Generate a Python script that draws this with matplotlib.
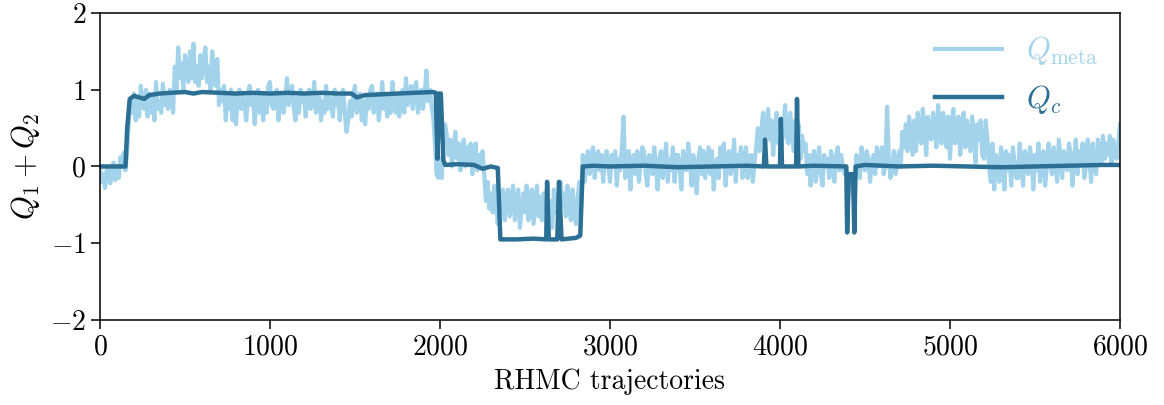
import numpy as np
import matplotlib
matplotlib.use("Agg")
import matplotlib.pyplot as plt

plt.rcParams["font.family"] = "serif"
plt.rcParams["font.serif"] = ["cmr10", "DejaVu Serif"]
plt.rcParams["mathtext.fontset"] = "cm"
plt.rcParams["axes.formatter.use_mathtext"] = True
plt.rcParams["font.size"] = 20

# Q_meta, one value every 10 trajectories, 200 per row
meta_step = 10
q_meta = [
    -0.05, -0.2, -0.1, -0.28, -0.05, 0.0, -0.22, -0.1, 0.05, -0.18, 0.0, -0.15, 0.12, 0.05, 0.18, -0.05, 0.2, 0.6, 0.85, 0.7,
    0.95, 0.6, 0.9, 0.65, 1.05, 0.8, 0.75, 1.0, 0.65, 0.95, 0.7, 0.9, 0.6, 1.1, 0.75, 0.85, 0.7, 1.08, 0.8, 0.95,
    0.75, 1.0, 0.85, 0.7, 1.3, 1.0, 1.55, 1.15, 1.35, 1.0, 1.45, 1.2, 1.1, 1.5, 1.15, 1.6, 1.1, 1.3, 1.05, 1.45,
    1.15, 1.4, 1.55, 1.1, 1.3, 1.0, 1.5, 1.2, 1.05, 1.4, 0.8, 1.0, 0.85, 1.05, 0.6, 0.9, 0.75, 1.0, 0.6, 0.95,
    0.55, 0.9, 1.0, 0.75, 0.95, 0.8, 0.6, 0.9, 1.05, 0.8, 0.95, 0.55, 0.85, 1.0, 0.7, 0.95, 0.6, 0.9, 0.7, 1.05,
    1.1, 0.8, 0.75, 0.95, 1.0, 0.6, 0.85, 0.95, 0.7, 0.9, 1.15, 0.8, 0.95, 1.05, 0.75, 0.6, 0.9, 0.7, 1.0, 0.85,
    0.95, 0.65, 0.9, 1.0, 0.75, 0.85, 1.1, 0.7, 0.8, 0.95, 0.6, 0.85, 0.7, 1.05, 0.75, 0.9, 0.8, 0.65, 1.0, 0.8,
    0.9, 0.6, 0.85, 1.0, 0.7, 0.45, 0.6, 0.85, 0.65, 0.95, 1.05, 0.7, 0.8, 0.95, 0.6, 0.85, 0.55, 0.9, 0.75, 1.0,
    1.05, 0.7, 0.85, 0.95, 0.6, 0.8, 1.1, 0.75, 0.9, 0.65, 0.9, 0.7, 1.1, 0.85, 0.7, 0.95, 0.65, 0.85, 1.0, 0.7,
    1.15, 0.8, 0.9, 1.05, 0.75, 1.0, 1.1, 0.7, 0.85, 1.0, 0.75, 0.95, 1.25, 0.85, 1.0, 0.8, 0.65, 0.3, -0.1, -0.15,
    0.1, -0.15, 0.3, 0.55, 0.4, 0.15, 0.35, 0.0, 0.25, 0.45, 0.1, 0.3, -0.05, 0.2, 0.35, 0.0, 0.25, 0.05, 0.3, -0.1,
    0.2, 0.3, -0.05, 0.15, 0.0, 0.2, -0.1, -0.45, -0.2, -0.55, -0.35, -0.6, -0.25, -0.45, -0.75, -0.4, -0.6, -0.3, -0.7, -0.45,
    -0.3, -0.65, -0.45, -0.25, -0.7, -0.5, -0.3, -0.8, -0.55, -0.35, -0.6, -0.25, -0.7, -0.45, -0.3, -0.75, -0.5, -0.25, -0.65, -0.4,
    -0.7, -0.35, -0.55, -0.25, -0.65, -0.45, -0.8, -0.3, -0.6, -0.4, -0.7, -0.2, -0.5, -0.35, -0.65, -0.25, -0.55, -0.7, -0.3, -0.6,
    -0.75, -0.4, -0.2, -0.5, 0.15, -0.2, 0.05, 0.2, -0.1, 0.1, 0.25, -0.15, 0.05, 0.2, -0.05, 0.15, -0.2, 0.1, 0.2, 0.0,
    -0.2, 0.15, 0.0, 0.2, -0.25, 0.1, -0.05, 0.25, 0.65, -0.15, 0.05, 0.2, -0.3, 0.1, 0.15, -0.1, 0.2, -0.2, 0.05, 0.25,
    0.2, -0.1, -0.25, 0.15, 0.05, -0.1, 0.25, 0.0, -0.3, 0.1, 0.2, -0.15, 0.05, 0.3, -0.2, 0.1, -0.05, 0.25, -0.2, 0.15,
    0.15, -0.05, -0.3, 0.2, 0.0, -0.05, 0.3, 0.1, -0.25, 0.15, 0.0, -0.35, 0.1, 0.25, -0.1, 0.2, -0.15, 0.05, 0.25, -0.1,
    0.2, -0.3, 0.0, 0.1, -0.15, 0.25, 0.05, 0.3, -0.25, 0.1, 0.2, -0.1, 0.05, 0.35, -0.2, 0.15, 0.0, 0.25, -0.15, 0.1,
    0.25, -0.15, 0.1, 0.15, -0.2, 0.05, 0.25, 0.5, 0.2, 0.45, 0.7, 0.3, 0.55, 0.75, 0.35, 0.6, 0.15, 0.5, 0.7, 0.3,
    0.6, 0.25, 0.5, 0.8, 0.4, 0.3, 0.7, 0.45, 0.2, 0.6, 0.3, 0.55, 0.1, 0.4, 0.2, 0.3, -0.1, 0.15, -0.25, 0.1,
    0.2, -0.2, 0.05, 0.25, -0.1, -0.25, 0.15, 0.0, 0.1, -0.15, 0.2, 0.05, -0.2, 0.15, 0.25, -0.05, 0.15, 0.0, -0.1, -0.05,
    -0.35, -0.15, -0.1, -0.4, -0.2, 0.15, -0.05, -0.15, 0.25, 0.0, -0.05, 0.2, 0.1, -0.2, 0.05, 0.15, -0.1, 0.25, 0.0, 0.15,
    0.25, -0.1, 0.05, 0.78, 0.1, -0.15, 0.0, 0.2, -0.1, 0.05, 0.2, 0.0, 0.45, 0.25, 0.55, 0.2, 0.65, 0.4, 0.15, 0.6,
    0.2, 0.7, 0.45, 0.3, 0.75, 0.5, 0.15, 0.65, 0.4, 0.35, 0.7, 0.55, 0.25, 0.8, 0.5, 0.3, 0.7, 0.45, 0.25, 0.65,
    0.1, 0.55, 0.75, 0.3, 0.5, 0.65, 0.15, 0.45, 0.7, 0.25, 0.6, 0.4, 0.2, 0.65, 0.45, 0.05, 0.55, 0.35, 0.6, 0.15,
    0.1, 0.6, 0.35, 0.0, -0.2, 0.3, -0.3, 0.15, 0.0, -0.2, 0.25, 0.1, -0.3, 0.2, -0.05, 0.15, -0.25, 0.25, 0.05, -0.15,
    -0.15, 0.3, 0.0, -0.25, 0.2, 0.05, -0.1, 0.25, 0.1, -0.3, 0.15, -0.05, 0.3, -0.2, 0.1, 0.2, -0.25, 0.0, 0.3, 0.05,
    -0.1, 0.25, 0.05, -0.2, 0.35, 0.1, -0.15, 0.2, 0.0, -0.05, 0.3, 0.15, -0.25, 0.1, 0.35, -0.1, 0.2, 0.05, 0.3, -0.15,
    0.0, 0.35, 0.1, -0.2, 0.3, 0.0, -0.1, 0.35, 0.15, 0.05, 0.4, 0.1, 0.3, 0.15, 0.4, 0.05, 0.35, 0.2, 0.1, 0.3,
    0.55,
]
t_meta = np.arange(len(q_meta)) * meta_step

# Q_c, trajectory / value pairs at the corners of the curve
t_c = [0, 150, 160, 175, 200, 230, 260, 290, 350, 420, 500, 550, 600, 700, 800,
       900, 1000, 1100, 1200, 1300, 1400, 1480, 1510, 1560, 1650, 1750, 1850,
       1960, 1975, 1985, 1995, 2005, 2020, 2030, 2100, 2200, 2250, 2300, 2340,
       2355, 2450, 2550, 2625, 2630, 2640, 2690, 2700, 2715, 2800, 2825, 2840,
       2900, 3000, 3200, 3400, 3600, 3800, 3905, 3912, 3920, 4000, 4005, 4012,
       4095, 4100, 4108, 4200, 4390, 4395, 4405, 4430, 4437, 4445, 4500, 4700,
       4900, 5100, 5300, 5500, 5700, 5900, 6000]
q_c = [0.0, 0.0, 0.5, 0.88, 0.92, 0.90, 0.88, 0.93, 0.95, 0.96, 0.97, 0.95, 0.97,
       0.96, 0.95, 0.96, 0.95, 0.96, 0.95, 0.96, 0.95, 0.95, 0.90, 0.93, 0.94,
       0.95, 0.96, 0.97, 0.96, 0.10, 0.95, 0.95, 0.08, 0.02, 0.03, 0.02, -0.03,
       0.00, -0.02, -0.95, -0.95, -0.94, -0.95, -0.20, -0.95, -0.95, -0.20,
       -0.95, -0.93, -0.90, 0.00, 0.01, 0.00, 0.01, -0.01, 0.00, 0.01, 0.00,
       0.35, 0.00, 0.00, 0.62, 0.00, 0.00, 0.88, 0.00, 0.01, 0.00, -0.86,
       -0.10, -0.10, -0.86, 0.00, 0.02, 0.00, 0.01, 0.00, -0.01, 0.00, 0.01,
       0.02, 0.02]

c_meta = "#a3d3eb"
c_c = "#2b6f94"

fig = plt.figure(figsize=(11.64, 4.05), dpi=100)
ax = fig.add_axes([0.0859, 0.2099, 0.8763, 0.7581])

ax.plot(t_meta, q_meta, color=c_meta, lw=3.0, label=r"$Q_{\rm meta}$")
ax.plot(t_c, q_c, color=c_c, lw=3.2, label=r"$Q_c$")

ax.set_xlim(0, 6000)
ax.set_ylim(-2, 2)
ax.set_xticks([0, 1000, 2000, 3000, 4000, 5000, 6000])
ax.set_yticks([-2, -1, 0, 1, 2])
ax.set_xlabel("RHMC trajectories", fontsize=20, labelpad=6)
ax.set_ylabel(r"$Q_1 + Q_2$", fontsize=22, labelpad=6)
ax.tick_params(direction="out", length=6.5, width=1.1, labelsize=20)
for spine in ax.spines.values():
    spine.set_linewidth(1.1)

leg = ax.legend(loc="upper right", frameon=False, handlelength=2.2,
                fontsize=22, borderaxespad=0.3, handletextpad=0.8)
for txt, col in zip(leg.get_texts(), [c_meta, c_c]):
    txt.set_color(col)

fig.savefig("out.png", dpi=100)
